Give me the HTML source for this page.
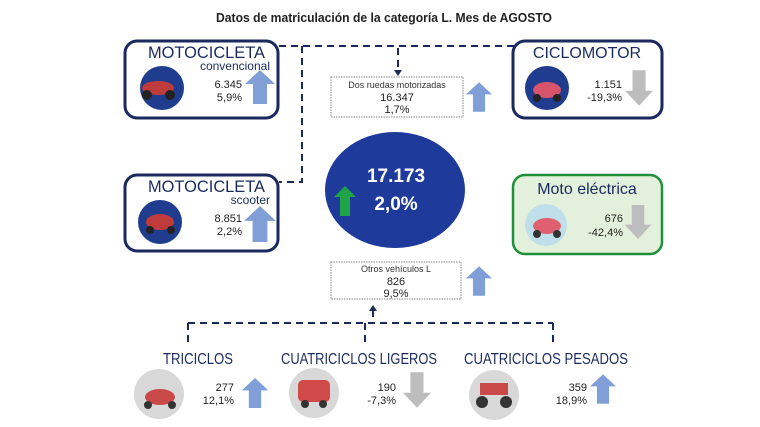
<!DOCTYPE html>
<html><head><meta charset="utf-8"><style>
html,body{margin:0;padding:0;background:#fff;}
svg{display:block;font-family:"Liberation Sans",sans-serif;}
</style></head><body>
<svg width="760" height="427" viewBox="0 0 760 427" xmlns="http://www.w3.org/2000/svg">
<defs>
<symbol id="up" viewBox="0 0 30 34"><polygon points="15,0 30,14 22,14 22,34 8,34 8,14 0,14" fill="#7f9fd6"/></symbol>
<symbol id="dn" viewBox="0 0 30 38"><polygon points="15,38 30,22 22,22 22,0 8,0 8,22 0,22" fill="#bdbdbd"/></symbol>
</defs>
<text x="216" y="22" textLength="336" lengthAdjust="spacingAndGlyphs" font-size="13" font-weight="bold" fill="#222">Datos de matriculación de la categoría L. Mes de AGOSTO</text>

<g stroke="#1a2a5e" stroke-width="2" stroke-dasharray="7,5" fill="none">
<path d="M279 46 H514"/>
<path d="M302 46 V182 H279"/>
<path d="M398 48 V70"/>
<path d="M373 310 V323"/>
<path d="M188 323 H553"/>
<path d="M188 323 V345 M365 323 V345 M553 323 V345"/>
</g>
<polygon points="394,70 402,70 398,76" fill="#1a2a5e"/>
<polygon points="369,311 377,311 373,305" fill="#1a2a5e"/>

<rect x="125" y="41" width="153" height="77" rx="12" fill="#fff" stroke="#1a2a5e" stroke-width="3"/>
<text x="148" y="58" textLength="117" lengthAdjust="spacingAndGlyphs" font-size="17" fill="#1a2a5e">MOTOCICLETA</text>
<text x="270" y="70" text-anchor="end" font-size="12" fill="#1a2a5e">convencional</text>
<circle cx="162" cy="88" r="22" fill="#1f3c8f"/>
<ellipse cx="158" cy="88" rx="16" ry="7" fill="#c03b3b"/>
<circle cx="147" cy="95" r="5" fill="#222"/><circle cx="170" cy="95" r="5" fill="#222"/>
<text x="242" y="88" text-anchor="end" font-size="11" fill="#222">6.345</text>
<text x="242" y="101" text-anchor="end" font-size="11" fill="#222">5,9%</text>
<use href="#up" x="244" y="70" width="32" height="34"/>

<rect x="331" y="77" width="132" height="40" fill="#fff" stroke="#888" stroke-width="1" stroke-dasharray="1.5,1"/>
<text x="397" y="88" text-anchor="middle" font-size="9" fill="#333">Dos ruedas motorizadas</text>
<text x="397" y="101" text-anchor="middle" font-size="11" fill="#222">16.347</text>
<text x="397" y="113" text-anchor="middle" font-size="11" fill="#222">1,7%</text>
<use href="#up" x="466" y="82" width="26" height="30"/>

<rect x="513" y="41" width="149" height="77" rx="12" fill="#fff" stroke="#1a2a5e" stroke-width="3"/>
<text x="587" y="58" text-anchor="middle" font-size="16" fill="#1a2a5e">CICLOMOTOR</text>
<circle cx="547" cy="88" r="22" fill="#1f3c8f"/>
<ellipse cx="547" cy="90" rx="14" ry="8" fill="#d9536b"/>
<circle cx="537" cy="98" r="4" fill="#222"/><circle cx="557" cy="98" r="4" fill="#222"/>
<text x="622" y="88" text-anchor="end" font-size="11" fill="#222">1.151</text>
<text x="622" y="101" text-anchor="end" font-size="11" fill="#222">-19,3%</text>
<use href="#dn" x="625" y="70" width="28" height="36"/>

<rect x="125" y="175" width="153" height="76" rx="12" fill="#fff" stroke="#1a2a5e" stroke-width="3"/>
<text x="148" y="192" textLength="117" lengthAdjust="spacingAndGlyphs" font-size="17" fill="#1a2a5e">MOTOCICLETA</text>
<text x="270" y="204" text-anchor="end" font-size="12" fill="#1a2a5e">scooter</text>
<circle cx="160" cy="222" r="22" fill="#1f3c8f"/>
<ellipse cx="160" cy="222" rx="14" ry="8" fill="#c03b3b"/>
<circle cx="150" cy="230" r="4" fill="#222"/><circle cx="171" cy="230" r="4" fill="#222"/>
<text x="242" y="222" text-anchor="end" font-size="11" fill="#222">8.851</text>
<text x="242" y="235" text-anchor="end" font-size="11" fill="#222">2,2%</text>
<use href="#up" x="244" y="206" width="32" height="36"/>

<ellipse cx="395" cy="190" rx="70" ry="58" fill="#1e3b9c"/>
<text x="396" y="182" text-anchor="middle" font-size="19" font-weight="bold" fill="#fff">17.173</text>
<text x="396" y="210" text-anchor="middle" font-size="19" font-weight="bold" fill="#fff">2,0%</text>
<polygon points="345,186 356,197 350,197 350,216 340,216 340,197 334,197" fill="#1fa348"/>

<rect x="513" y="175" width="149" height="79" rx="12" fill="#e3f0dc" stroke="#1f8f3a" stroke-width="2.5"/>
<text x="587" y="194" text-anchor="middle" font-size="16" fill="#1a2a5e">Moto eléctrica</text>
<circle cx="546" cy="225" r="21" fill="#bfe0ea"/>
<ellipse cx="547" cy="226" rx="14" ry="8" fill="#e06070"/>
<circle cx="537" cy="234" r="4" fill="#333"/><circle cx="557" cy="234" r="4" fill="#333"/>
<text x="623" y="222" text-anchor="end" font-size="11" fill="#222">676</text>
<text x="623" y="236" text-anchor="end" font-size="11" fill="#222">-42,4%</text>
<use href="#dn" x="624" y="205" width="28" height="34"/>

<rect x="331" y="262" width="130" height="37" fill="#fff" stroke="#888" stroke-width="1" stroke-dasharray="1.5,1"/>
<text x="396" y="272" text-anchor="middle" font-size="9" fill="#333">Otros vehículos L</text>
<text x="396" y="285" text-anchor="middle" font-size="11" fill="#222">826</text>
<text x="396" y="297" text-anchor="middle" font-size="11" fill="#222">9,5%</text>
<use href="#up" x="466" y="265" width="26" height="32"/>

<text x="163" y="364" textLength="70" lengthAdjust="spacingAndGlyphs" font-size="16" fill="#1a2a5e">TRICICLOS</text>
<text x="281" y="364" textLength="156" lengthAdjust="spacingAndGlyphs" font-size="16" fill="#1a2a5e">CUATRICICLOS LIGEROS</text>
<text x="464" y="364" textLength="164" lengthAdjust="spacingAndGlyphs" font-size="16" fill="#1a2a5e">CUATRICICLOS PESADOS</text>

<circle cx="159" cy="394" r="25" fill="#d8d8d8"/>
<ellipse cx="160" cy="397" rx="15" ry="8" fill="#c94848"/>
<circle cx="148" cy="405" r="4" fill="#333"/><circle cx="172" cy="405" r="4" fill="#333"/>
<text x="234" y="391" text-anchor="end" font-size="11" fill="#222">277</text>
<text x="234" y="404" text-anchor="end" font-size="11" fill="#222">12,1%</text>
<use href="#up" x="237" y="378" width="36" height="30"/>

<circle cx="314" cy="393" r="25" fill="#d8d8d8"/>
<rect x="298" y="380" width="32" height="22" rx="5" fill="#d14a4a"/>
<circle cx="305" cy="404" r="4" fill="#333"/><circle cx="323" cy="404" r="4" fill="#333"/>
<text x="396" y="391" text-anchor="end" font-size="11" fill="#222">190</text>
<text x="396" y="404" text-anchor="end" font-size="11" fill="#222">-7,3%</text>
<use href="#dn" x="403" y="371" width="28" height="38"/>

<circle cx="494" cy="395" r="25" fill="#d8d8d8"/>
<rect x="480" y="383" width="28" height="12" fill="#c94848"/>
<circle cx="482" cy="402" r="6" fill="#333"/><circle cx="506" cy="402" r="6" fill="#333"/>
<text x="587" y="391" text-anchor="end" font-size="11" fill="#222">359</text>
<text x="587" y="404" text-anchor="end" font-size="11" fill="#222">18,9%</text>
<use href="#up" x="590" y="372" width="26" height="34"/>
</svg>
</body></html>
